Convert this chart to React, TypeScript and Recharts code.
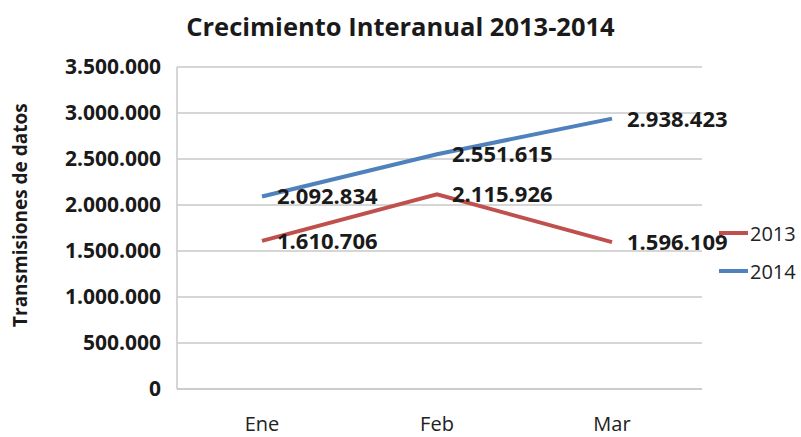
import { LineChart, Line, XAxis, YAxis, CartesianGrid, LabelList } from "recharts";

const months = ["Ene", "Feb", "Mar"];
const serie2013 = [1610706, 2115926, 1596109];
const serie2014 = [2092834, 2551615, 2938423];
const yTicks = [0, 500000, 1000000, 1500000, 2000000, 2500000, 3000000, 3500000];

const data = months.map((m, i) => ({ mes: m, a2013: serie2013[i], a2014: serie2014[i] }));

const FONT = "'Open Sans', sans-serif";
const RED = "#c0504d";
const BLUE = "#4f81bd";

const fmt = (v: number) => v.toLocaleString("de-DE");

function ValueLabel(props: any) {
  const { x, y, value } = props;
  return (
    <text x={x + 15} y={y + 2} dominantBaseline="middle" textAnchor="start" fontFamily={FONT} fontWeight={700} fontSize={22} fill="#1a1a1a">
      {fmt(value)}
    </text>
  );
}

function MonthTick(props: any) {
  const { x, y, payload } = props;
  return (
    <text x={x} y={y + 29} textAnchor="middle" dominantBaseline="middle" fontFamily={FONT} fontSize={20} fill="#222">
      {payload.value}
    </text>
  );
}

function LegendBox() {
  const items = [
    { name: "2013", color: RED },
    { name: "2014", color: BLUE },
  ];
  return (
    <div style={{ position: "absolute", left: 719, top: 214, fontFamily: FONT, fontSize: 20, color: "#222" }}>
      {items.map((it) => (
        <div key={it.name} style={{ display: "flex", alignItems: "center", height: 38 }}>
          <span style={{ display: "inline-block", width: 29, height: 4, background: it.color, marginRight: 2 }} />
          {it.name}
        </div>
      ))}
    </div>
  );
}

export default function App() {
  return (
    <div style={{ position: "absolute", left: 0, top: 0, width: 801, height: 437, background: "#fff", overflow: "hidden" }}>
      <div style={{ position: "absolute", left: 0, width: 801, top: 9, textAlign: "center", fontFamily: FONT, fontWeight: 700, fontSize: 25.5, lineHeight: "34px", color: "#1a1a1a" }}>
        Crecimiento Interanual 2013-2014
      </div>
      <LineChart width={801} height={437} data={data} margin={{ top: 67, right: 99, bottom: 0, left: 0 }}>
        <CartesianGrid vertical={false} stroke="#c8c8c8" strokeWidth={1.5} />
        <XAxis dataKey="mes" height={48} padding={{ left: 85, right: 90 }} axisLine={{ stroke: "#c8c8c8", strokeWidth: 1.5 }} tickLine={false} tick={<MonthTick />} interval={0} />
        <YAxis
          width={177}
          domain={[0, 3500000]}
          ticks={yTicks}
          tickFormatter={fmt}
          axisLine={{ stroke: "#c8c8c8", strokeWidth: 1.5 }}
          tickLine={false}
          tickMargin={10}
          tick={{ fontFamily: FONT, fontWeight: 700, fontSize: 21, fill: "#1a1a1a" }}
          label={{ value: "Transmisiones de datos", angle: -90, position: "insideLeft", dx: 15, dy: 99, style: { fontFamily: FONT, fontWeight: 700, fontSize: 19, fill: "#1a1a1a" } }}
        />
        <Line dataKey="a2013" name="2013" stroke={RED} strokeWidth={4} dot={false} isAnimationActive={false}>
          <LabelList dataKey="a2013" content={<ValueLabel />} />
        </Line>
        <Line dataKey="a2014" name="2014" stroke={BLUE} strokeWidth={4} dot={false} isAnimationActive={false}>
          <LabelList dataKey="a2014" content={<ValueLabel />} />
        </Line>
      </LineChart>
      <LegendBox />
    </div>
  );
}
